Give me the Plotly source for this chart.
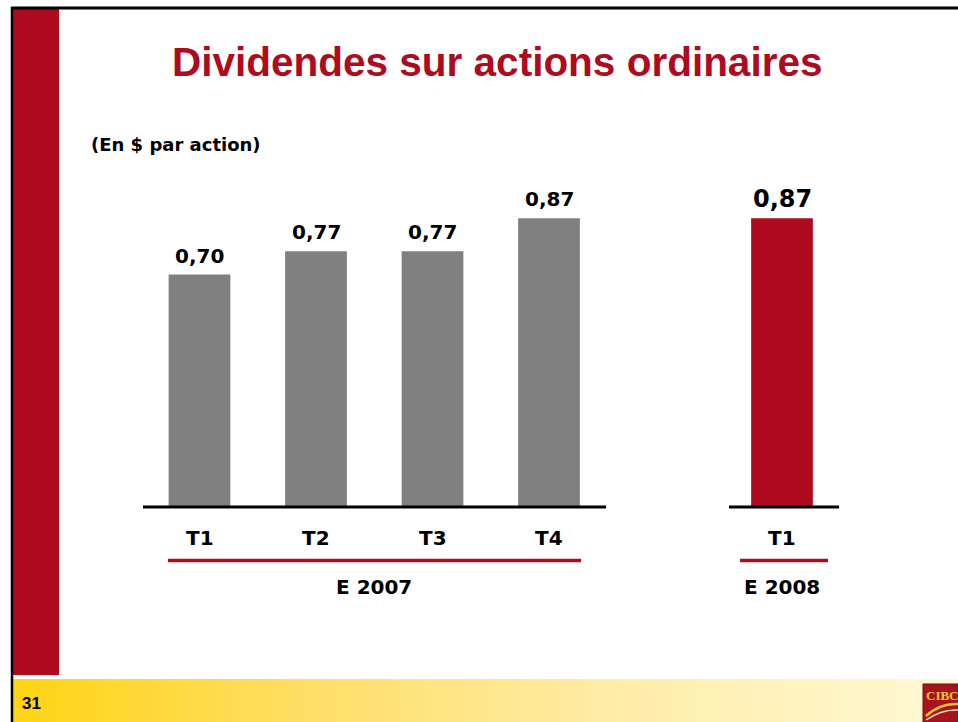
import plotly.graph_objects as go

# ---- data ----
quarters_2007 = ["T1", "T2", "T3", "T4"]
values_2007 = [0.70, 0.77, 0.77, 0.87]
quarters_2008 = ["T1"]
values_2008 = [0.87]
group_labels = ["E 2007", "E 2008"]
title_text = "Dividendes sur actions ordinaires"
subtitle_text = "(En $ par action)"
page_number = "31"

RED = "#AE0C1E"
GRAY = "#808080"
W, H = 958, 722

def fmt(v):
    return f"{v:.2f}".replace(".", ",")

# numeric positions for bars (gap between years)
x2007 = [0, 1, 2, 3]
x2008 = [5]

# axis ranges so that the plot covers the whole page
PX0, PXU = 199.5, 116.5      # pixel of x=0 and pixels per unit
PY0, PYU = 507.0, 332.0      # pixel of y=0 and pixels per unit
xr = [-PX0 / PXU, (W - PX0) / PXU]
yr = [-(H - PY0) / PYU, PY0 / PYU]

def px(x):  # page pixel -> paper x
    return x / W

def py(y):  # page pixel -> paper y
    return 1 - y / H

fig = go.Figure()
fig.add_trace(go.Bar(x=x2007, y=values_2007, width=0.53, marker_color=GRAY,
                     marker_line_width=0, hoverinfo="skip"))
fig.add_trace(go.Bar(x=x2008, y=values_2008, width=0.53, marker_color=RED,
                     marker_line_width=0, hoverinfo="skip"))

ann = []
shapes = []
FONT = "DejaVu Sans"

# value labels
for x, v in zip(x2007, values_2007):
    ann.append(dict(x=x, y=v, xref="x", yref="y", text=f"<b>{fmt(v)}</b>",
                    showarrow=False, yanchor="bottom", yshift=5,
                    font=dict(family=FONT, size=20, color="black")))
for x, v in zip(x2008, values_2008):
    ann.append(dict(x=x, y=v, xref="x", yref="y", text=f"<b>{fmt(v)}</b>",
                    showarrow=False, yanchor="bottom", yshift=3,
                    font=dict(family=FONT, size=24, color="black")))

# category labels
for x, q in zip(x2007 + x2008, quarters_2007 + quarters_2008):
    ann.append(dict(x=x, y=py(538), xref="x", yref="paper", text=f"<b>{q}</b>",
                    showarrow=False, yanchor="middle",
                    font=dict(family=FONT, size=20, color="black")))

# group labels
ann.append(dict(x=sum(x2007) / len(x2007), y=py(587), xref="x", yref="paper",
                text=f"<b>{group_labels[0]}</b>", showarrow=False, yanchor="middle",
                font=dict(family=FONT, size=20, color="black")))
ann.append(dict(x=x2008[0], y=py(587), xref="x", yref="paper",
                text=f"<b>{group_labels[1]}</b>", showarrow=False, yanchor="middle",
                font=dict(family=FONT, size=20, color="black")))

# baselines
shapes.append(dict(type="line", xref="x", yref="y", x0=-0.485, x1=3.49, y0=0, y1=0,
                   line=dict(color="black", width=3)))
shapes.append(dict(type="line", xref="x", yref="y", x0=4.545, x1=5.49, y0=0, y1=0,
                   line=dict(color="black", width=3)))
# red group underlines
shapes.append(dict(type="line", xref="x", yref="paper", x0=-0.27, x1=3.275,
                   y0=py(560.5), y1=py(560.5), line=dict(color=RED, width=3.5)))
shapes.append(dict(type="line", xref="x", yref="paper", x0=4.64, x1=5.395,
                   y0=py(560.5), y1=py(560.5), line=dict(color=RED, width=3.5)))

# ---- page decoration ----
# footer gradient
stops = [(13, (255, 212, 20)), (300, (255, 222, 100)), (600, (255, 236, 165)), (958, (255, 249, 212))]
N = 80
x_start, x_end = 13, 958
for i in range(N):
    a = x_start + (x_end - x_start) * i / N
    b = x_start + (x_end - x_start) * (i + 1) / N + 0.8
    m = (a + b) / 2
    for (s0, c0), (s1, c1) in zip(stops[:-1], stops[1:]):
        if s0 <= m <= s1:
            t = (m - s0) / (s1 - s0)
            c = tuple(round(c0[k] + (c1[k] - c0[k]) * t) for k in range(3))
            break
    shapes.append(dict(type="rect", xref="paper", yref="paper", x0=px(a), x1=px(min(b, W)),
                       y0=py(722), y1=py(679), fillcolor=f"rgb{c}", line_width=0, layer="below"))

# red sidebar
shapes.append(dict(type="rect", xref="paper", yref="paper", x0=px(13), x1=px(59),
                   y0=py(675), y1=py(9), fillcolor=RED, line_width=0, layer="below"))
# black frame lines
shapes.append(dict(type="line", xref="paper", yref="paper", x0=px(11), x1=1,
                   y0=py(8), y1=py(8), line=dict(color="black", width=3)))
shapes.append(dict(type="line", xref="paper", yref="paper", x0=px(12), x1=px(12),
                   y0=py(7), y1=0, line=dict(color="black", width=2.5)))

# CIBC logo
shapes.append(dict(type="rect", xref="paper", yref="paper", x0=px(923), x1=1,
                   y0=0, y1=py(684), fillcolor="#A8141E", line=dict(color="#7a0a12", width=1)))
shapes.append(dict(type="path", xref="paper", yref="paper",
                   path=f"M {px(926)},{py(716)} Q {px(940)},{py(703)} {px(958)},{py(704)}",
                   line=dict(color="#F2C230", width=2.5)))
shapes.append(dict(type="path", xref="paper", yref="paper",
                   path=f"M {px(926)},{py(720)} Q {px(942)},{py(709)} {px(958)},{py(710)}",
                   line=dict(color="#F6E3B0", width=1.5)))
ann.append(dict(x=px(924), y=py(695), xref="paper", yref="paper", text="<b>CIBC</b>",
                showarrow=False, xanchor="left", yanchor="middle",
                font=dict(family="Liberation Serif", size=13, color="#F5C431")))

# title, subtitle, page number
ann.append(dict(x=px(497), y=py(62), xref="paper", yref="paper", text=f"<b>{title_text}</b>",
                showarrow=False, xanchor="center", yanchor="middle",
                font=dict(family="Liberation Sans", size=40.5, color=RED)))
ann.append(dict(x=px(89), y=py(145), xref="paper", yref="paper", text=f"<b>{subtitle_text}</b>",
                showarrow=False, xanchor="left", yanchor="middle",
                font=dict(family=FONT, size=18, color="black")))
ann.append(dict(x=px(20), y=py(703), xref="paper", yref="paper", text=f"<b>{page_number}</b>",
                showarrow=False, xanchor="left", yanchor="middle",
                font=dict(family="Liberation Sans", size=17, color="black")))

fig.update_layout(
    width=W, height=H,
    margin=dict(l=0, r=0, t=0, b=0),
    paper_bgcolor="white", plot_bgcolor="white",
    showlegend=False, barmode="overlay",
    xaxis=dict(range=xr, visible=False, fixedrange=True),
    yaxis=dict(range=yr, visible=False, fixedrange=True),
    annotations=ann, shapes=shapes,
)

fig.write_html("out.html", config={"displayModeBar": False},
               post_script="document.body.style.margin='0';document.body.style.overflow='hidden';")
